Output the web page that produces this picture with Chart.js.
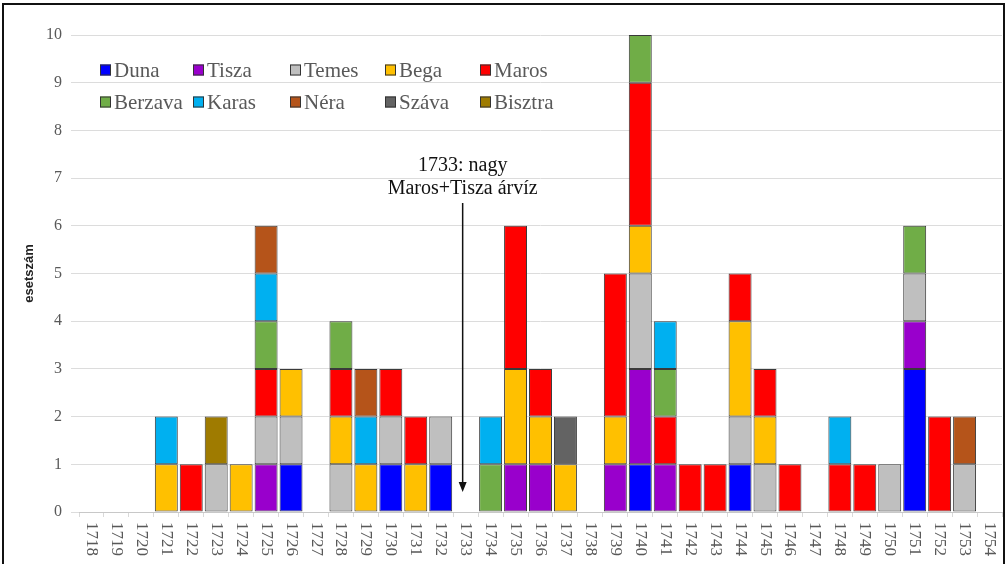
<!DOCTYPE html>
<html>
<head>
<meta charset="utf-8">
<script src="https://cdn.jsdelivr.net/npm/chart.js@4.4.0/dist/chart.umd.min.js"></script>
<style>
html, body { margin: 0; padding: 0; background: #fff; overflow: hidden; }
#doboz { position: absolute; left: 0; top: 0; width: 1007px; height: 564px; }
#keret { position: absolute; left: 2px; top: 3px; width: 1003px; height: 620px; border: 2px solid #111; box-sizing: border-box; pointer-events: none; }
</style>
</head>
<body>
<div id="doboz"><canvas id="myChart"></canvas></div>
<div id="keret"></div>
<script>
// évek (kategóriák)
const evek = ['1718', '1719', '1720', '1721', '1722', '1723', '1724', '1725', '1726', '1727',
  '1728', '1729', '1730', '1731', '1732', '1733', '1734', '1735', '1736', '1737',
  '1738', '1739', '1740', '1741', '1742', '1743', '1744', '1745', '1746', '1747',
  '1748', '1749', '1750', '1751', '1752', '1753', '1754'];

// esetszám folyónként
const duna    = [0,0,0,0,0,0,0,0,1,0, 0,0,1,0,1,0,0,0,0,0, 0,0,1,0,0,0,1,0,0,0, 0,0,0,3,0,0,0];
const tisza   = [0,0,0,0,0,0,0,1,0,0, 0,0,0,0,0,0,0,1,1,0, 0,1,2,1,0,0,0,0,0,0, 0,0,0,1,0,0,0];
const temes   = [0,0,0,0,0,1,0,1,1,0, 1,0,1,0,1,0,0,0,0,0, 0,0,2,0,0,0,1,1,0,0, 0,0,1,1,0,1,0];
const bega    = [0,0,0,1,0,0,1,0,1,0, 1,1,0,1,0,0,0,2,1,1, 0,1,1,0,0,0,2,1,0,0, 0,0,0,0,0,0,0];
const maros   = [0,0,0,0,1,0,0,1,0,0, 1,0,1,1,0,0,0,3,1,0, 0,3,3,1,1,1,1,1,1,0, 1,1,0,0,2,0,0];
const berzava = [0,0,0,0,0,0,0,1,0,0, 1,0,0,0,0,0,1,0,0,0, 0,0,1,1,0,0,0,0,0,0, 0,0,0,1,0,0,0];
const karas   = [0,0,0,1,0,0,0,1,0,0, 0,1,0,0,0,0,1,0,0,0, 0,0,0,1,0,0,0,0,0,0, 1,0,0,0,0,0,0];
const nera    = [0,0,0,0,0,0,0,1,0,0, 0,1,0,0,0,0,0,0,0,0, 0,0,0,0,0,0,0,0,0,0, 0,0,0,0,0,1,0];
const szava   = [0,0,0,0,0,0,0,0,0,0, 0,0,0,0,0,0,0,0,0,1, 0,0,0,0,0,0,0,0,0,0, 0,0,0,0,0,0,0];
const bisztra = [0,0,0,0,0,1,0,0,0,0, 0,0,0,0,0,0,0,0,0,0, 0,0,0,0,0,0,0,0,0,0, 0,0,0,0,0,0,0];

const yTicks = [0, 1, 2, 3, 4, 5, 6, 7, 8, 9, 10];

const folyok = [
  { nev: 'Duna', adat: duna, szin: '#0000ff' },
  { nev: 'Tisza', adat: tisza, szin: '#9900cc' },
  { nev: 'Temes', adat: temes, szin: '#bfbfbf' },
  { nev: 'Bega', adat: bega, szin: '#ffc000' },
  { nev: 'Maros', adat: maros, szin: '#ff0000' },
  { nev: 'Berzava', adat: berzava, szin: '#70ad47' },
  { nev: 'Karas', adat: karas, szin: '#00b0f0' },
  { nev: 'Néra', adat: nera, szin: '#b5541a' },
  { nev: 'Száva', adat: szava, szin: '#636363' },
  { nev: 'Bisztra', adat: bisztra, szin: '#9f7b00' }
];

const serif = '"Liberation Serif", "DejaVu Serif", serif';

// saját rajzok: elforgatott évszámok, jelmagyarázat, nyíl
const rajzok = {
  id: 'rajzok',
  afterDraw(chart) {
    const c = chart.ctx;
    const x = chart.scales.x;
    const y = chart.scales.y;

    // x tengely feliratai (90 fokkal jobbra forgatva)
    c.save();
    c.fillStyle = '#595959';
    c.font = '17px ' + serif;
    c.textAlign = 'left';
    c.textBaseline = 'middle';
    evek.forEach((ev, i) => {
      c.save();
      c.translate(x.getPixelForValue(i), y.bottom + 10);
      c.rotate(Math.PI / 2);
      c.fillText(ev, 0, 0);
      c.restore();
    });
    c.restore();

    // jelmagyarázat, két sorban
    const oszlopok = [100, 193, 290, 385, 480];
    const sorok = [70, 102];
    c.save();
    c.font = '21px ' + serif;
    c.textBaseline = 'middle';
    c.textAlign = 'left';
    folyok.forEach((f, i) => {
      const bx = oszlopok[i % 5];
      const by = sorok[Math.floor(i / 5)];
      c.fillStyle = f.szin;
      c.fillRect(bx, by - 5.5, 11, 11);
      c.strokeStyle = '#333';
      c.lineWidth = 1;
      c.strokeRect(bx + 0.5, by - 5, 10, 10);
      c.fillStyle = '#595959';
      c.fillText(f.nev, bx + 14, by + 1);
    });
    c.restore();

    // 1733-as megjegyzés nyíllal
    const ax = x.getPixelForValue(evek.indexOf('1733')) - 3;
    c.save();
    c.fillStyle = '#111';
    c.font = '20px ' + serif;
    c.textAlign = 'center';
    c.textBaseline = 'middle';
    c.fillText('1733: nagy', ax, y.getPixelForValue(7.25));
    c.fillText('Maros+Tisza árvíz', ax, y.getPixelForValue(6.77));
    const y1 = y.getPixelForValue(6.48);
    const y2 = y.getPixelForValue(0.42);
    c.strokeStyle = '#111';
    c.lineWidth = 1.5;
    c.beginPath();
    c.moveTo(ax, y1);
    c.lineTo(ax, y2 - 8);
    c.stroke();
    c.beginPath();
    c.moveTo(ax - 4, y2 - 10);
    c.lineTo(ax + 4, y2 - 10);
    c.lineTo(ax, y2);
    c.closePath();
    c.fill();
    c.restore();
  }
};

const ctx = document.getElementById('myChart').getContext('2d');

let grafico1 = new Chart(ctx, {
  type: 'bar',
  data: {
    labels: evek,
    datasets: folyok.map((f) => ({
      label: f.nev,
      data: f.adat.map((v) => (v === 0 ? null : v)),
      backgroundColor: f.szin,
      borderColor: '#3a3a3a',
      borderWidth: 1,
      borderSkipped: false,
      barPercentage: 0.92,
      categoryPercentage: 1
    }))
  },
  options: {
    responsive: true,
    maintainAspectRatio: false,
    animation: false,
    layout: { padding: { top: 35, right: 5, left: 0, bottom: 0 } },
    plugins: {
      legend: { display: false },
      tooltip: { enabled: false }
    },
    scales: {
      x: {
        stacked: true,
        grid: { display: true, drawOnChartArea: false, offset: true, tickLength: 5, color: '#d9d9d9' },
        border: { color: '#c8c8c8' },
        ticks: { display: false },
        afterFit: (s) => { s.height = 52; }
      },
      y: {
        stacked: true,
        min: 0,
        max: 10,
        afterBuildTicks: (s) => { s.ticks = yTicks.map((v) => ({ value: v })); },
        ticks: { color: '#595959', font: { family: serif, size: 16 }, padding: 9 },
        grid: { color: '#dcdcdc', tickLength: 8 },
        border: { display: false },
        title: {
          display: true,
          text: 'esetszám',
          color: '#222',
          font: { family: '"Liberation Sans Narrow", "Liberation Sans", sans-serif', size: 13, weight: 'bold' },
          padding: { top: 22, bottom: 0 }
        },
        afterFit: (s) => { s.width = 79; }
      }
    }
  },
  plugins: [rajzok]
});
</script>
</body>
</html>
